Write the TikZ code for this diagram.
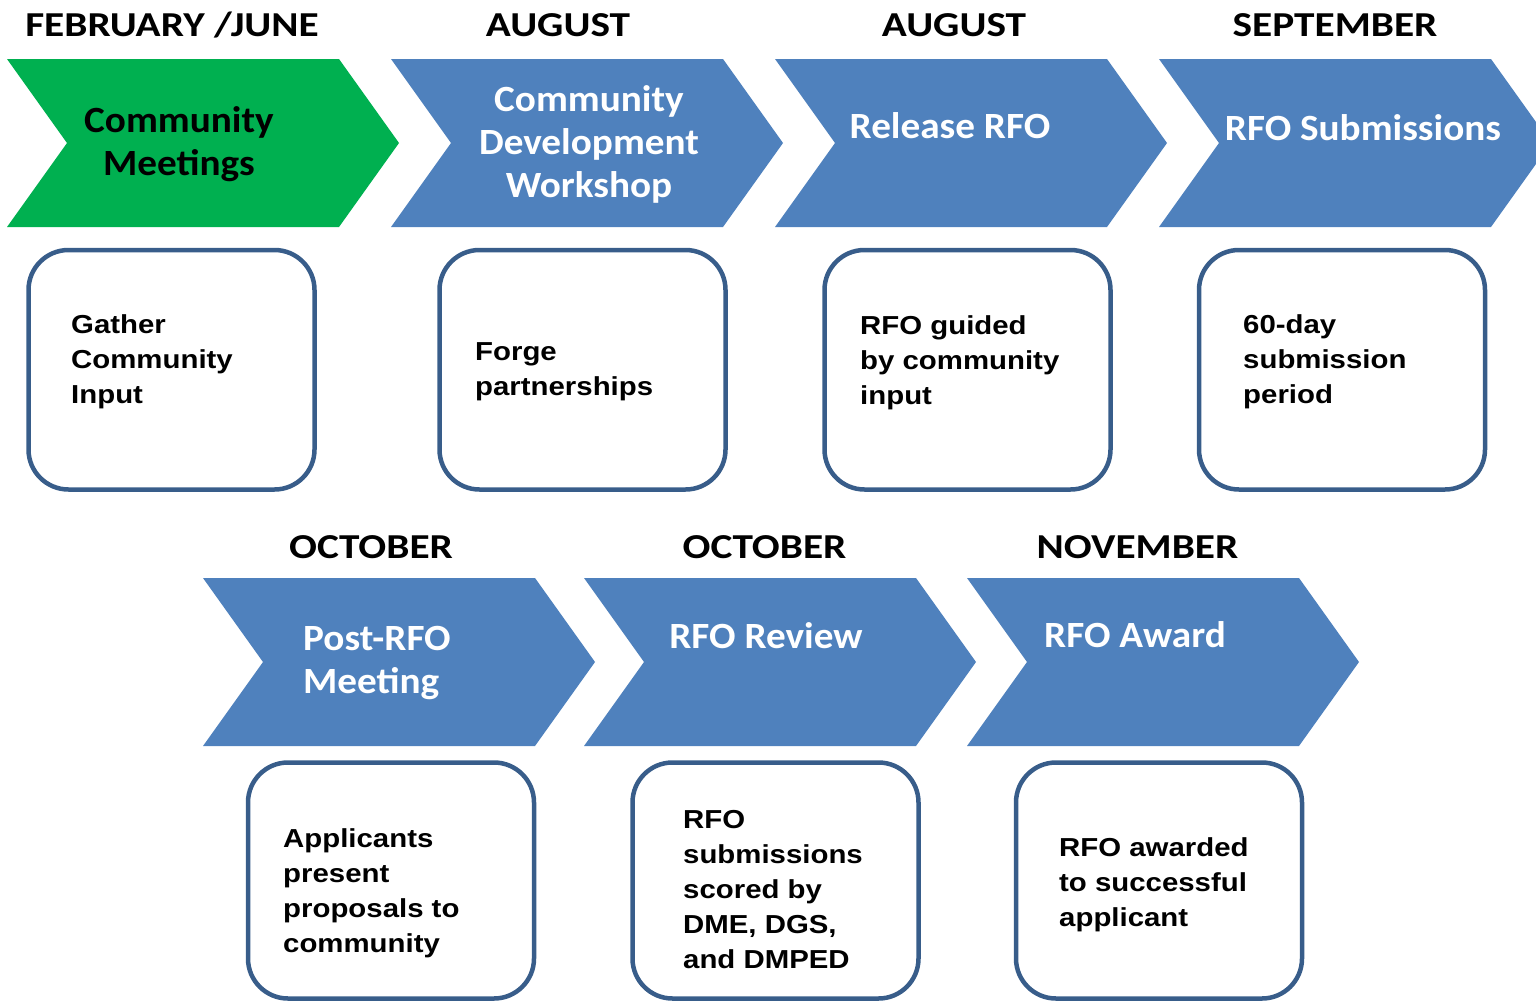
\documentclass[tikz,border=0pt]{standalone}
\usepackage{fontspec}
\newfontfamily\monthfont[FakeStretch=1.18]{Carlito}
\newfontfamily\stepfont[FakeStretch=1.06]{Carlito}
\newfontfamily\notefont[FakeStretch=1.13]{Liberation Sans}
\definecolor{stepgreen}{HTML}{00B050}
\definecolor{stepblue}{HTML}{4F81BD}
\definecolor{boxblue}{HTML}{385D8A}
\tikzset{
  month/.style={font=\monthfont\bfseries\fontsize{35}{42}\selectfont, anchor=base, inner sep=0},
  steplabel/.style={font=\stepfont\bfseries\fontsize{37}{43}\selectfont, text=white, align=center, inner sep=0},
  notebox/.style={draw=boxblue, line width=4.5pt, rounded corners=40pt, minimum width=286pt, minimum height=239.5pt, inner sep=0},
  notetext/.style={font=\notefont\bfseries\fontsize{26}{35}\selectfont, align=left, anchor=west, inner sep=0},
}
% arrow-shaped step, top left corner at (#1,#2)
\newcommand{\chevron}[3]{%
  \fill[#3] (#1,#2) -- ++(332,0) -- ++(60,84) -- ++(-60,84) -- ++(-332,0) -- ++(60,-84) -- cycle;}
\begin{document}
\begin{tikzpicture}[x=1pt,y=-1pt]
	\useasboundingbox (0,0) rectangle (1536,1001);
	\clip (0,0) rectangle (1536,1001);
	% top row
	\chevron{7}{59}{stepgreen}
	\chevron{391}{59}{stepblue}
	\chevron{775}{59}{stepblue}
	\chevron{1159}{59}{stepblue}
	% bottom row
	\chevron{203}{578}{stepblue}
	\chevron{584}{578}{stepblue}
	\chevron{967}{578}{stepblue}
	% months
	\node[month] (m1) at (172,36) {FEBRUARY /JUNE};
	\node[month] (m2) at (558,36) {AUGUST};
	\node[month] (m3) at (954,36) {AUGUST};
	\node[month] (m4) at (1335,36) {SEPTEMBER};
	\node[month] (m5) at (371,558) {OCTOBER};
	\node[month] (m6) at (764.5,558) {OCTOBER};
	\node[month] (m7) at (1137.5,558) {NOVEMBER};
	% step names
	\node[steplabel, text=black] (s1) at (179,144) {Community\\Meetings};
	\node[steplabel] (s2) at (589,144) {Community\\Development\\Workshop};
	\node[steplabel] (s3) at (950,126) {Release RFO};
	\node[steplabel] (s4) at (1363,127.5) {RFO Submissions};
	\node[steplabel, align=left, anchor=west] (s5) at (303,662.5) {Post-RFO\\Meeting};
	\node[steplabel] (s6) at (766,636) {RFO Review};
	\node[steplabel] (s7) at (1135,635) {RFO Award};
	% boxes
	\node[notebox] (b1) at (171.5,369.75) {};
	\node[notebox] (b2) at (582.5,369.75) {};
	\node[notebox] (b3) at (967.5,369.75) {};
	\node[notebox] (b4) at (1342,369.75) {};
	\node[notebox, minimum height=236pt] (b5) at (391,880.5) {};
	\node[notebox, minimum height=236pt] (b6) at (775.5,880.5) {};
	\node[notebox, minimum height=236pt] (b7) at (1159,880.5) {};
	% box texts
	\node[notetext] (t1) at (71,362) {Gather\\Community\\Input};
	\node[notetext] (t2) at (475,372) {Forge\\partnerships};
	\node[notetext] (t3) at (860,363) {RFO guided\\by community\\input};
	\node[notetext] (t4) at (1243,362) {60-day\\submission\\period};
	\node[notetext] (t5) at (283,893) {Applicants\\present\\proposals to\\community};
	\node[notetext] (t6) at (683,889.5) {RFO\\submissions\\scored by\\DME, DGS,\\and DMPED};
	\node[notetext] (t7) at (1059,885) {RFO awarded\\to successful\\applicant};
\end{tikzpicture}
\end{document}
